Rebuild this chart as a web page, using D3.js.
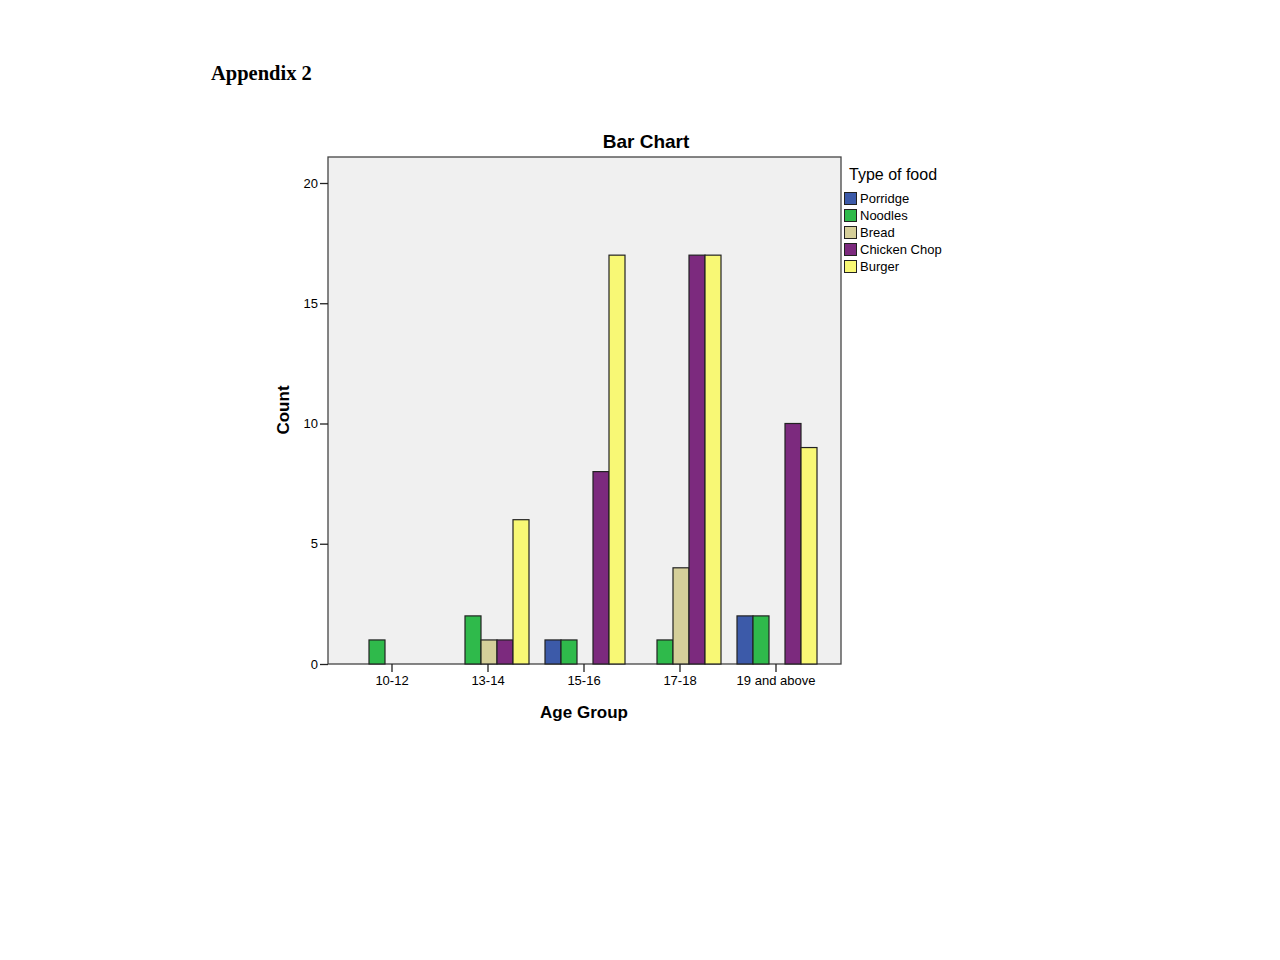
<!DOCTYPE html>
<html lang="en">
<head>
<meta charset="utf-8">
<title>Bar Chart</title>
<script src="https://cdn.jsdelivr.net/npm/d3@7"></script>
<style>
  body { margin: 0; background: #fff; }
  svg text { font-family: Arial, "Liberation Sans", sans-serif; fill: #000; }
</style>
</head>
<body>
<div id="s"></div>
<script>
// data
var ageGroups = ["10-12", "13-14", "15-16", "17-18", "19 and above"];
var foods = ["Porridge", "Noodles", "Bread", "Chicken Chop", "Burger"];
var foodColors = ["#3c5aa9", "#2fba4b", "#d5cf9a", "#7c2a7e", "#f8f875"];
var porridge    = [0, 0, 1, 0, 2];
var noodles     = [1, 2, 1, 1, 2];
var bread       = [0, 1, 0, 4, 0];
var chickenChop = [0, 1, 8, 17, 10];
var burger      = [0, 6, 17, 17, 9];
var yTicks = [0, 5, 10, 15, 20];

var counts = [porridge, noodles, bread, chickenChop, burger];

var width = 1280, height = 960;
var box = { left: 328, right: 841, top: 157, bottom: 664 };

var svg = d3.select("#s").append("svg")
    .attr("width", width)
    .attr("height", height);

svg.append("text")
    .attr("x", 211).attr("y", 80)
    .style("font-family", "'Liberation Serif', 'Times New Roman', serif")
    .style("font-weight", "bold")
    .style("font-size", "20.5px")
    .text("Appendix 2");

// plot frame
svg.append("rect")
    .attr("x", box.left).attr("y", box.top)
    .attr("width", box.right - box.left).attr("height", box.bottom - box.top)
    .attr("fill", "#f0f0f0")
    .attr("stroke", "#444").attr("stroke-width", 1.3);

var x = d3.scaleBand()
    .domain(ageGroups)
    .range([box.left + 16, box.right - 17])
    .paddingInner(0);

var xs = d3.scaleBand()
    .domain(foods)
    .range([0, 80]);

var y = d3.scaleLinear()
    .domain([0, 20])
    .range([box.bottom, 183]);

// bars
var bars = [];
ageGroups.forEach(function(g, gi) {
    foods.forEach(function(f, fi) {
        if (counts[fi][gi] > 0) bars.push({ g: g, f: f, fi: fi, v: counts[fi][gi] });
    });
});

svg.append("g").selectAll("rect")
    .data(bars)
    .join("rect")
    .attr("x", function(d) { return x(d.g) + x.bandwidth() / 2 - 39 + xs(d.f); })
    .attr("y", function(d) { return y(d.v); })
    .attr("width", xs.bandwidth())
    .attr("height", function(d) { return y(0) - y(d.v); })
    .attr("fill", function(d) { return foodColors[d.fi]; })
    .attr("stroke", "#222")
    .attr("stroke-width", 1.2);

// axes
var yAxis = d3.axisLeft(y).tickValues(yTicks).tickSize(8).tickPadding(2);
var gy = svg.append("g").attr("transform", "translate(" + box.left + ",0)").call(yAxis);
gy.select(".domain").remove();
gy.selectAll(".tick line").attr("stroke", "#222").attr("stroke-width", 1.3);
gy.selectAll(".tick text").style("font-size", "13px").style("font-family", "Arial, 'Liberation Sans', sans-serif").attr("fill", "#111");

var xAxis = d3.axisBottom(x).tickSize(8).tickPadding(4);
var gx = svg.append("g").attr("transform", "translate(0," + box.bottom + ")").call(xAxis);
gx.select(".domain").remove();
gx.selectAll(".tick line").attr("stroke", "#222").attr("stroke-width", 1.3);
gx.selectAll(".tick text").style("font-size", "13px").style("font-family", "Arial, 'Liberation Sans', sans-serif").attr("fill", "#111");

// titles
svg.append("text")
    .attr("x", 646).attr("y", 148)
    .attr("text-anchor", "middle")
    .style("font-size", "19px").style("font-weight", "bold")
    .text("Bar Chart");

svg.append("text")
    .attr("x", 584).attr("y", 718)
    .attr("text-anchor", "middle")
    .style("font-size", "17px").style("font-weight", "bold")
    .text("Age Group");

svg.append("text")
    .attr("transform", "translate(289,410) rotate(-90)")
    .attr("text-anchor", "middle")
    .style("font-size", "17px").style("font-weight", "bold")
    .text("Count");

// legend
var legend = svg.append("g").attr("transform", "translate(844,0)");
legend.append("text")
    .attr("x", 5).attr("y", 180)
    .style("font-size", "16px")
    .text("Type of food");

var items = legend.selectAll("g.item")
    .data(foods)
    .join("g")
    .attr("class", "item")
    .attr("transform", function(d, i) { return "translate(0," + (192 + i * 17) + ")"; });
items.append("rect")
    .attr("x", 0.5).attr("y", 0.5)
    .attr("width", 12).attr("height", 12)
    .attr("fill", function(d, i) { return foodColors[i]; })
    .attr("stroke", "#222").attr("stroke-width", 1);
items.append("text")
    .attr("x", 16).attr("y", 11)
    .style("font-size", "13px")
    .text(function(d) { return d; });
</script>
</body>
</html>
